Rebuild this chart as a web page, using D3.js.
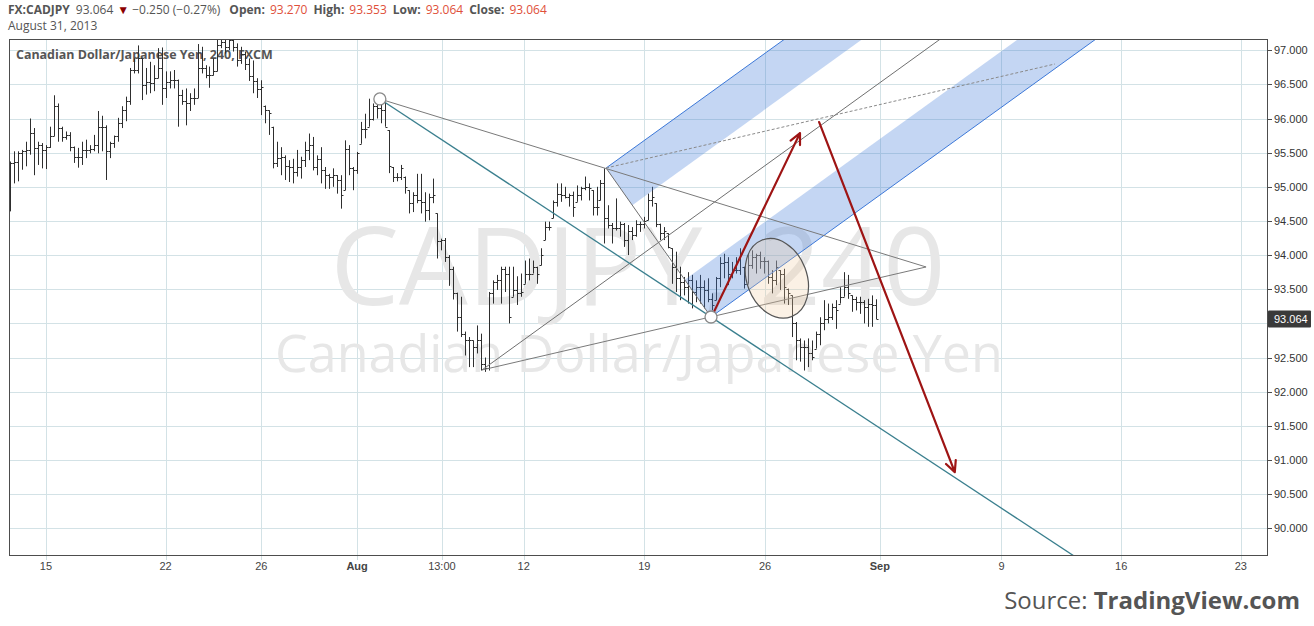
<!DOCTYPE html>
<html><head><meta charset="utf-8">
<script src="https://cdn.jsdelivr.net/npm/d3@7"></script>
<style>body{margin:0;background:#fff;}svg{display:block;}</style>
</head><body><svg id="c" width="1314" height="626"></svg>
<script>
// ---------- DATA ----------
const opens = [
94.90,95.35,95.37,95.49,95.52,95.54,95.79,95.57,95.61,95.54,
95.58,95.74,96.18,95.86,95.73,95.76,95.58,95.44,95.44,95.54,
95.54,95.55,95.61,95.88,95.88,95.52,95.64,95.74,95.94,96.13,
96.25,96.71,96.71,96.88,96.49,96.54,96.52,96.59,96.74,96.45,
96.54,96.57,96.57,96.35,96.25,96.22,96.30,96.30,96.74,96.74,
96.64,96.63,96.69,97.08,97.12,97.05,97.15,97.05,96.85,96.95,
96.80,96.62,96.55,96.43,96.19,96.12,95.88,95.35,95.42,95.44,
95.30,95.29,95.22,95.29,95.39,95.54,95.61,95.29,95.41,95.24,
95.17,95.15,95.17,95.10,94.95,95.56,95.27,95.24,95.63,95.85,
95.88,96.00,96.18,96.15,96.12,95.83,95.29,95.15,95.15,95.15,
94.95,94.76,94.88,94.80,94.78,94.66,94.85,94.61,94.20,94.22,
93.97,93.80,93.45,93.09,92.85,92.75,92.75,92.66,92.75,92.40,
92.35,93.44,93.61,93.63,93.80,93.73,93.39,93.49,93.44,93.58,
93.73,93.73,93.83,93.85,94.22,94.41,94.54,94.78,94.90,94.88,
94.85,94.88,94.78,94.88,94.98,95.00,94.95,94.71,94.80,95.05,
94.55,94.44,94.39,94.40,94.45,94.22,94.36,94.30,94.45,94.45,
94.51,94.80,94.76,94.45,94.32,94.32,94.10,93.83,93.66,93.61,
93.53,93.63,93.46,93.53,93.53,93.49,93.36,93.34,93.66,93.88,
93.90,93.73,93.78,93.78,93.83,93.58,93.85,93.97,94.00,93.92,
93.92,93.68,93.63,93.78,93.73,93.51,93.41,93.00,92.75,92.66,
92.66,92.56,92.63,92.85,93.00,93.07,93.09,93.24,93.29,93.39,
93.53,93.41,93.36,93.31,93.31,93.24,93.29,93.27];
const highs = [
95.37,95.52,95.52,95.54,95.66,96.00,95.86,95.66,95.64,95.61,
95.88,96.34,96.22,95.88,95.81,95.80,95.59,95.57,95.66,95.69,
95.61,95.76,96.11,96.04,95.90,95.66,95.75,96.01,96.18,96.32,
96.74,96.88,97.07,96.88,96.74,96.83,96.78,97.03,97.04,96.69,
96.69,96.71,96.57,96.42,96.44,96.37,96.44,97.09,97.05,96.78,
96.76,96.88,97.15,97.18,97.30,97.25,97.22,97.10,97.05,96.98,
96.88,96.85,96.59,96.56,96.19,96.12,95.88,95.66,95.58,95.46,
95.39,95.41,95.54,95.44,95.66,95.78,95.73,95.46,95.58,95.29,
95.19,95.27,95.17,95.17,95.68,95.61,95.29,95.51,95.95,96.07,
96.29,96.22,96.24,96.29,96.24,95.83,95.29,95.20,95.32,95.15,
94.95,94.92,95.19,95.19,94.92,94.90,95.12,94.61,94.24,94.25,
94.00,93.83,93.45,93.39,92.88,92.80,92.75,92.97,92.85,92.50,
93.46,93.63,93.71,93.83,93.83,93.83,93.83,93.69,93.73,93.92,
93.95,93.92,93.83,94.10,94.49,94.49,94.80,95.05,95.05,95.00,
94.90,94.93,95.02,95.00,95.15,95.05,94.95,95.00,95.10,95.27,
94.73,94.47,94.83,94.49,94.47,94.44,94.41,94.51,94.49,94.56,
94.90,95.00,94.76,94.46,94.41,94.32,94.10,94.05,93.83,93.68,
93.75,93.71,93.63,93.71,93.63,93.66,93.44,93.68,93.97,94.02,
93.97,93.90,93.97,94.10,93.83,94.02,94.07,94.02,94.05,93.97,
93.92,93.78,93.92,93.78,93.80,93.51,93.41,93.02,92.78,92.75,
92.78,92.75,92.88,93.09,93.34,93.29,93.29,93.34,93.53,93.75,
93.71,93.41,93.39,93.39,93.34,93.36,93.41,93.353];
const lows = [
94.64,95.05,95.08,95.25,95.30,95.47,95.17,95.32,95.27,95.26,
95.57,95.74,95.66,95.66,95.69,95.52,95.35,95.28,95.32,95.42,
95.49,95.52,95.49,95.52,95.10,95.42,95.57,95.66,95.86,95.96,
96.20,96.66,96.66,96.27,96.35,96.37,96.40,96.59,96.20,96.30,
96.44,96.44,95.88,96.20,95.90,96.11,96.20,96.30,96.66,96.59,
96.45,96.63,96.69,97.03,96.95,97.00,96.98,96.76,96.80,96.71,
96.55,96.37,96.30,96.05,95.93,95.76,95.27,95.29,95.17,95.10,
95.07,95.05,95.15,95.12,95.29,95.39,95.24,95.17,95.05,94.97,
94.97,95.00,94.90,94.68,94.95,95.17,94.95,95.19,95.63,95.71,
95.88,95.97,96.00,95.93,95.88,95.20,95.07,95.08,95.10,94.90,
94.61,94.63,94.76,94.61,94.49,94.51,94.76,93.95,94.07,93.90,
93.55,93.35,92.88,92.80,92.53,92.36,92.36,92.56,92.31,92.29,
92.31,93.29,93.49,93.29,93.46,93.00,93.39,93.27,93.39,93.58,
93.63,93.73,93.58,93.85,94.22,94.36,94.54,94.71,94.78,94.83,
94.71,94.56,94.78,94.80,94.95,94.80,94.58,94.58,94.80,94.17,
94.39,94.17,94.36,94.27,94.12,94.00,94.22,94.27,94.34,94.39,
94.51,94.71,94.41,94.22,94.22,94.10,93.58,93.46,93.34,93.41,
93.29,93.22,93.31,93.29,93.22,93.31,93.19,93.34,93.53,93.66,
93.56,93.66,93.73,93.71,93.51,93.58,93.80,93.73,93.80,93.73,
93.58,93.44,93.56,93.49,93.29,93.27,92.80,92.46,92.44,92.31,
92.36,92.46,92.63,92.68,92.90,93.00,93.05,92.92,93.29,93.39,
93.36,93.17,93.19,93.14,93.00,92.95,92.95,93.064];
const closes = [
95.35,95.37,95.49,95.52,95.54,95.79,95.57,95.61,95.54,95.58,
95.74,96.18,95.86,95.73,95.76,95.58,95.44,95.44,95.54,95.54,
95.55,95.61,95.88,95.88,95.52,95.64,95.74,95.94,96.13,96.25,
96.71,96.71,96.88,96.49,96.54,96.52,96.59,96.74,96.45,96.54,
96.57,96.57,96.35,96.25,96.22,96.30,96.30,96.74,96.74,96.64,
96.63,96.69,97.08,97.12,97.05,97.15,97.05,96.85,96.95,96.80,
96.62,96.55,96.43,96.46,96.12,96.08,95.35,95.42,95.44,95.30,
95.29,95.22,95.29,95.39,95.54,95.61,95.29,95.41,95.24,95.17,
95.15,95.17,95.10,94.88,95.56,95.27,95.24,95.49,95.85,95.85,
96.00,96.18,96.15,96.12,95.88,95.30,95.15,95.15,95.27,95.00,
94.76,94.88,94.80,94.78,94.66,94.85,94.88,94.20,94.22,93.97,
93.80,93.45,93.09,92.85,92.75,92.75,92.66,92.75,92.40,92.35,
93.44,93.61,93.63,93.80,93.73,93.09,93.49,93.44,93.46,93.73,
93.73,93.83,93.73,94.00,94.41,94.41,94.78,94.90,94.88,94.85,
94.88,94.71,94.88,94.98,95.00,94.98,94.71,94.71,95.05,94.55,
94.44,94.39,94.40,94.45,94.22,94.36,94.30,94.45,94.45,94.50,
94.80,94.85,94.45,94.32,94.35,94.12,93.83,93.66,93.61,93.53,
93.63,93.46,93.53,93.53,93.49,93.36,93.27,93.66,93.88,93.90,
93.73,93.78,93.78,94.02,93.58,93.85,93.97,94.00,93.92,93.92,
93.68,93.63,93.83,93.73,93.53,93.44,93.00,92.75,92.66,92.66,
92.56,92.51,92.85,93.00,93.07,93.09,93.24,93.19,93.39,93.53,
93.44,93.36,93.31,93.31,93.24,93.29,93.27,93.064];

const priceTicks = [90.0,90.5,91.0,91.5,92.0,92.5,93.0,93.5,94.0,94.5,95.0,95.5,96.0,96.5,97.0];
const xTickIdx    = [9, 39, 63, 87, 108.25, 128.75, 159, 189.25, 218, 248.5, 278.5, 308.5];
const xTickLabels = ["15","22","26","Aug","13:00","12","19","26","Sep","9","16","23"];
const xTickBold   = [false,false,false,true,false,false,false,false,true,false,false,false];

// drawing-tool anchor points: [bar index, price]
const pivotA = [92.7, 96.286];
const pivotB = [118.3, 92.318];
const pivotC = [149.4, 95.275];
const pivotD = [175.7, 93.094];
const apex = [229.6, 93.826];
const tealEnd = [272, 89.39];
const dashEnd = [261.9, 96.798];
const arrowUp = [[176.4, 93.165], [198.0, 95.786]];
const arrowDown = [[202.8, 95.947], [236.8, 90.822]];
const ellipseCenter = [192.2, 93.66];
const lastPrice = 93.064;

// ---------- LAYOUT ----------
const W = 1314, H = 626;
const L = 9, R = 1267, T = 39, B = 555;
const x = d3.scaleLinear().domain([-0.25, 315.05]).range([L, R]);
const y = d3.scaleLinear().domain([89.609, 97.164]).range([B, T]);
const P = p => [x(p[0]), y(p[1])];

const svg = d3.select('#c');
svg.append('rect').attr('width', W).attr('height', H).attr('fill', '#fff');
svg.append('defs').append('clipPath').attr('id', 'clip')
  .append('rect').attr('x', L).attr('y', T).attr('width', R - L).attr('height', B - T);

const fit = (sel, w) => {
  const cur = sel.node().getComputedTextLength();
  const fs = parseFloat(sel.attr('font-size'));
  sel.attr('font-size', fs * w / cur);
};

// grid
const grid = svg.append('g').attr('clip-path', 'url(#clip)').attr('stroke', '#d3e2e6').attr('stroke-width', 1);
grid.selectAll('line.h').data(priceTicks).join('line').attr('class', 'h')
  .attr('x1', L).attr('x2', R)
  .attr('y1', d => Math.round(y(d)) + 0.5).attr('y2', d => Math.round(y(d)) + 0.5);
grid.selectAll('line.v').data(xTickIdx).join('line').attr('class', 'v')
  .attr('y1', T).attr('y2', B)
  .attr('x1', d => Math.round(x(d)) + 0.5).attr('x2', d => Math.round(x(d)) + 0.5);

// watermarks (one text element, two lines)
const wm = svg.append('text').attr('text-anchor', 'middle')
  .attr('font-family', 'Open Sans, sans-serif').attr('fill', '#e7e7e7');
const wm1 = wm.append('tspan').text('CADJPY, 240').attr('x', 638).attr('y', 305).attr('font-size', 110);
const wm2 = wm.append('tspan').text('Canadian Dollar/Japanese Yen').attr('x', 639).attr('y', 372).attr('font-size', 50);
fit(wm1, 615);
fit(wm2, 728);

// title in plot
const ttl = svg.append('text').text('Canadian Dollar/Japanese Yen, 240, FXCM')
  .attr('x', 16).attr('y', 59).attr('font-family', 'Open Sans, sans-serif')
  .attr('font-weight', 'bold').attr('font-size', 12).attr('fill', '#555');
fit(ttl, 257);

// OHLC bars
const bars = d3.range(closes.length);
const gb = svg.append('g').attr('clip-path', 'url(#clip)').attr('stroke', '#2e2e2e').attr('stroke-width', 1);
gb.selectAll('path').data(bars).join('path')
  .attr('fill', 'none')
  .attr('d', i => {
    const cx = Math.round(x(i)) + 0.5;
    const yh = y(highs[i]), yl = y(lows[i]);
    const yo = Math.round(y(opens[i])) + 0.5, yc = Math.round(y(closes[i])) + 0.5;
    return `M${cx},${yh}V${yl}M${cx - 2},${yo}H${cx}M${cx},${yc}H${cx + 2}`;
  });

// pitchfork (handle B, prongs C & D)
const mid = (a, b) => [(a[0] + b[0]) / 2, (a[1] + b[1]) / 2];
const M = mid(pivotC, pivotD);
const dir = [M[0] - pivotB[0], M[1] - pivotB[1]];
const ext = (p, iEnd) => { const k = (iEnd - p[0]) / dir[0]; return [p[0] + k * dir[0], p[1] + k * dir[1]]; };
const Q1 = mid(pivotC, M), Q2 = mid(M, pivotD);
const farI = 300;
const ga = svg.append('g').attr('clip-path', 'url(#clip)');
const poly = pts => 'M' + pts.map(p => P(p).join(',')).join('L') + 'Z';
ga.append('path').attr('d', poly([pivotC, ext(pivotC, farI), ext(Q1, farI), Q1])).attr('fill', 'rgba(60,120,216,0.3)');
ga.append('path').attr('d', poly([Q2, ext(Q2, farI), ext(pivotD, farI), pivotD])).attr('fill', 'rgba(60,120,216,0.3)');

const seg = (a, b, color, w, dash) => {
  const s = ga.append('line').attr('x1', P(a)[0]).attr('y1', P(a)[1]).attr('x2', P(b)[0]).attr('y2', P(b)[1])
    .attr('stroke', color).attr('stroke-width', w);
  if (dash) s.attr('stroke-dasharray', dash);
  return s;
};
seg(pivotC, ext(pivotC, farI), '#3c78d8', 1);
seg(pivotD, ext(pivotD, farI), '#3c78d8', 1);
seg(pivotB, ext(pivotB, farI), '#6f6f6f', 1);
seg(pivotC, pivotD, '#6f6f6f', 1);
seg(pivotA, apex, '#7a7a7a', 1);
seg(pivotB, apex, '#7a7a7a', 1);
seg(pivotC, dashEnd, '#8a8a8a', 1, '3,2');
seg(pivotA, tealEnd, '#3a7f8e', 1.3);

// ellipse
const ec = P(ellipseCenter);
svg.append('ellipse').attr('cx', 0).attr('cy', 0).attr('rx', 30).attr('ry', 41)
  .attr('transform', `translate(${ec[0]},${ec[1]}) rotate(-21)`)
  .attr('fill', 'rgba(242,205,160,0.27)').attr('stroke', '#555').attr('stroke-width', 1.2);

// arrows
const arrow = (a, b) => {
  const [x1, y1] = P(a), [x2, y2] = P(b);
  const ang = Math.atan2(y2 - y1, x2 - x1);
  const hl = 12, ha = 0.45;
  const h1 = [x2 - hl * Math.cos(ang - ha), y2 - hl * Math.sin(ang - ha)];
  const h2 = [x2 - hl * Math.cos(ang + ha), y2 - hl * Math.sin(ang + ha)];
  svg.append('path').attr('d', `M${x1},${y1}L${x2},${y2}M${h1[0]},${h1[1]}L${x2},${y2}L${h2[0]},${h2[1]}`)
    .attr('fill', 'none').attr('stroke', '#9e1414').attr('stroke-width', 2.2).attr('stroke-linecap', 'round').attr('stroke-linejoin', 'round');
};
arrow(arrowUp[0], arrowUp[1]);
arrow(arrowDown[0], arrowDown[1]);

// pivot circles
[pivotA, pivotD].forEach(p => {
  svg.append('circle').attr('cx', P(p)[0]).attr('cy', P(p)[1]).attr('r', 6)
    .attr('fill', '#fff').attr('stroke', '#8a8a8a').attr('stroke-width', 1.3);
});

// frame
svg.append('rect').attr('x', L + 0.5).attr('y', T + 0.5).attr('width', R - L).attr('height', B - T)
  .attr('fill', 'none').attr('stroke', '#4d4d4d').attr('stroke-width', 1);

// right axis (label hidden where the last-price tag covers it)
const labelTicks = priceTicks.filter(d => Math.abs(y(d) - y(lastPrice)) > 12);
const ya = svg.append('g');
ya.selectAll('line').data(priceTicks).join('line')
  .attr('x1', R + 1).attr('x2', R + 5)
  .attr('y1', d => Math.round(y(d)) + 0.5).attr('y2', d => Math.round(y(d)) + 0.5)
  .attr('stroke', '#4d4d4d');
ya.selectAll('text').data(labelTicks).join('text')
  .attr('x', R + 7).attr('y', d => y(d) + 4)
  .attr('font-family', 'Liberation Sans, Arial, sans-serif').attr('font-size', 11).attr('fill', '#333')
  .text(d => d3.format('.3f')(d));

// last price label
const ly = y(lastPrice);
svg.append('rect').attr('x', R + 1).attr('y', ly - 8.5).attr('width', 43).attr('height', 17).attr('fill', '#3a3a3a').attr('rx', 1);
svg.append('text').attr('x', R + 7).attr('y', ly + 4).attr('font-family', 'Liberation Sans, Arial, sans-serif')
  .attr('font-size', 11).attr('fill', '#fff').text(d3.format('.3f')(lastPrice));

// bottom axis
const xa = svg.append('g');
xa.selectAll('line').data(xTickIdx).join('line')
  .attr('x1', d => Math.round(x(d)) + 0.5).attr('x2', d => Math.round(x(d)) + 0.5)
  .attr('y1', B + 1).attr('y2', B + 5).attr('stroke', '#cfdde0');
xa.selectAll('text').data(xTickIdx).join('text')
  .attr('x', d => x(d)).attr('y', 570).attr('text-anchor', 'middle')
  .attr('font-family', 'Liberation Sans, Arial, sans-serif').attr('font-size', 11).attr('fill', '#444')
  .attr('font-weight', (d, i) => xTickBold[i] ? 'bold' : 'normal')
  .text((d, i) => xTickLabels[i]);

// header
const hdr = svg.append('text').attr('x', 8).attr('y', 14).attr('font-family', 'Open Sans, sans-serif').attr('font-size', 12).attr('fill', '#555');
hdr.append('tspan').attr('font-weight', 'bold').text('FX:CADJPY');
hdr.append('tspan').attr('dx', 6).text('93.064');
hdr.append('tspan').attr('dx', 4).attr('fill', '#8b0000').text('▼');
hdr.append('tspan').attr('dx', 3).text('\u22120.250 (\u22120.27%)');
const kv = [['Open:', '93.270'], ['High:', '93.353'], ['Low:', '93.064'], ['Close:', '93.064']];
kv.forEach((k, i) => {
  hdr.append('tspan').attr('dx', i === 0 ? 9 : 6).attr('font-weight', 'bold').text(k[0]);
  hdr.append('tspan').attr('dx', 5).attr('fill', '#e0503a').text(k[1]);
});
svg.append('text').attr('x', 8).attr('y', 30).attr('font-family', 'Open Sans, sans-serif').attr('font-size', 12)
  .attr('fill', '#555').text('August 31, 2013');

// source
const src = svg.append('text').attr('x', 1300).attr('y', 609).attr('text-anchor', 'end')
  .attr('font-family', 'Open Sans, sans-serif').attr('font-size', 25).attr('fill', '#555');
src.append('tspan').text('Source: ');
src.append('tspan').attr('font-weight', 'bold').text('TradingView.com');
fit(src, 296);
</script>
</body></html>
